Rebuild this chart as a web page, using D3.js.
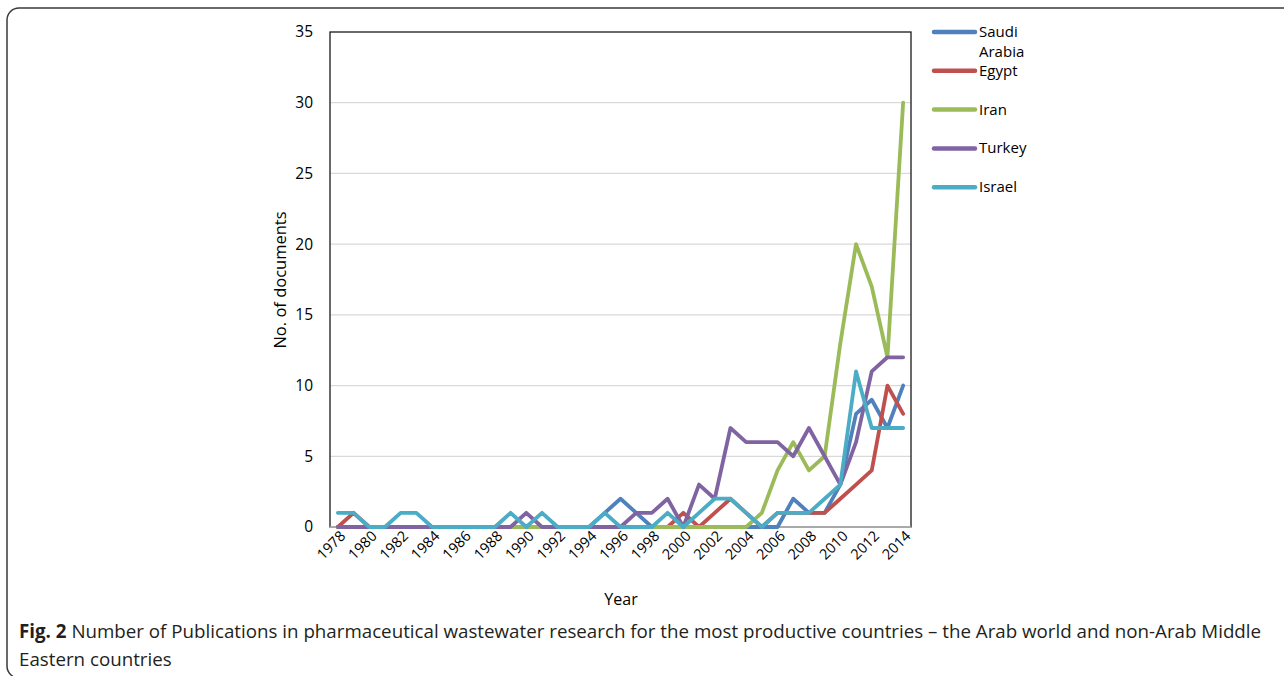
<!DOCTYPE html>
<html>
<head>
<meta charset="utf-8">
<script src="https://cdn.jsdelivr.net/npm/d3@7"></script>
<style>
  body { margin: 0; background: #fff; }
  text { font-family: "Open Sans", "Liberation Sans", sans-serif; }
</style>
</head>
<body>
<script>
// data
var years = d3.range(1978, 2015);
var yTicks = [0, 5, 10, 15, 20, 25, 30, 35];
var saudi  = [0,0,0,0,0,0,0,0,0,0,0,0,0,0,0,0,0,1,2,1,0,0,0,0,0,0,0,0,0,2,1,1,3,8,9,7,10];
var egypt  = [0,1,0,0,0,0,0,0,0,0,0,0,0,0,0,0,0,0,0,0,0,0,1,0,1,2,1,0,1,1,1,1,2,3,4,10,8];
var iran   = [0,0,0,0,0,0,0,0,0,0,0,0,0,0,0,0,0,0,0,0,0,0,0,0,0,0,0,1,4,6,4,5,13,20,17,12,30];
var turkey = [0,0,0,0,0,0,0,0,0,0,0,0,1,0,0,0,0,0,0,1,1,2,0,3,2,7,6,6,6,5,7,5,3,6,11,12,12];
var israel = [1,1,0,0,1,1,0,0,0,0,0,1,0,1,0,0,0,1,0,0,0,1,0,1,2,2,1,0,1,1,1,2,3,11,7,7,7];

var series = [
  { name: 'Saudi Arabia', values: saudi,  color: '#4F81BD' },
  { name: 'Egypt',        values: egypt,  color: '#C0504D' },
  { name: 'Iran',         values: iran,   color: '#9BBB59' },
  { name: 'Turkey',       values: turkey, color: '#8064A2' },
  { name: 'Israel',       values: israel, color: '#4BACC6' }
];

var W = 1284, H = 676;
var plot = { left: 330, right: 911, top: 32, bottom: 527 };

var svg = d3.select('body').append('svg')
    .attr('width', W)
    .attr('height', H);

// outer frame
svg.append('rect')
    .attr('x', 7).attr('y', 8)
    .attr('width', 1300).attr('height', 670)
    .attr('rx', 12)
    .attr('fill', 'none')
    .attr('stroke', '#3a3a3a')
    .attr('stroke-width', 1.5);

var x = d3.scalePoint()
    .domain(years)
    .range([plot.left, plot.right])
    .padding(0.5);

var y = d3.scaleLinear()
    .domain([0, 35])
    .range([plot.bottom, plot.top]);

// gridlines
svg.append('g')
  .selectAll('line')
  .data(yTicks.slice(1, -1))
  .join('line')
    .attr('x1', plot.left).attr('x2', plot.right)
    .attr('y1', function(d) { return y(d); })
    .attr('y2', function(d) { return y(d); })
    .attr('stroke', '#d9d9d9')
    .attr('stroke-width', 1.3);

// y axis labels
var yAxis = d3.axisLeft(y).tickValues(yTicks).tickSize(0).tickPadding(17);
svg.append('g')
    .attr('transform', 'translate(' + plot.left + ',0)')
    .call(yAxis)
    .call(function(g) {
      g.select('.domain').remove();
      g.selectAll('text')
        .attr('font-family', '"Open Sans", sans-serif')
        .attr('font-size', 15.5)
        .attr('fill', '#000');
    });

// x axis labels
var xAxis = d3.axisBottom(x)
    .tickValues(years.filter(function(d) { return d % 2 === 0; }))
    .tickSize(0);
svg.append('g')
    .attr('transform', 'translate(0,' + plot.bottom + ')')
    .call(xAxis)
    .call(function(g) {
      g.select('.domain').remove();
      g.selectAll('text')
        .attr('font-family', '"Open Sans", sans-serif')
        .attr('font-size', 14.5)
        .attr('fill', '#000')
        .attr('text-anchor', 'end')
        .attr('dy', null)
        .attr('y', 0)
        .attr('transform', 'translate(8,10) rotate(-45)');
    });

// plot frame
svg.append('rect')
    .attr('x', plot.left).attr('y', plot.top)
    .attr('width', plot.right - plot.left)
    .attr('height', plot.bottom - plot.top)
    .attr('fill', 'none')
    .attr('stroke', '#1a1a1a')
    .attr('stroke-width', 1.3);

// bottom axis line
svg.append('line')
    .attr('x1', plot.left).attr('x2', plot.right)
    .attr('y1', plot.bottom).attr('y2', plot.bottom)
    .attr('stroke', '#bfbfbf')
    .attr('stroke-width', 1.5);

// lines
var line = d3.line()
    .x(function(d, i) { return x(years[i]); })
    .y(function(d) { return y(d); });

svg.append('g')
  .selectAll('path')
  .data(series)
  .join('path')
    .attr('d', function(d) { return line(d.values); })
    .attr('fill', 'none')
    .attr('stroke', function(d) { return d.color; })
    .attr('stroke-width', 3.8)
    .attr('stroke-linejoin', 'round')
    .attr('stroke-linecap', 'round');

// axis titles
svg.append('text')
    .attr('transform', 'translate(286,280) rotate(-90)')
    .attr('text-anchor', 'middle')
    .attr('font-size', 16.5)
    .text('No. of documents');

svg.append('text')
    .attr('x', 621).attr('y', 605)
    .attr('text-anchor', 'middle')
    .attr('font-size', 16)
    .text('Year');

// legend
var legend = svg.append('g')
  .selectAll('g')
  .data(series)
  .join('g')
    .attr('transform', function(d, i) { return 'translate(934,' + (32 + i * 38.8) + ')'; });

legend.append('line')
    .attr('x1', 0).attr('x2', 41)
    .attr('stroke', function(d) { return d.color; })
    .attr('stroke-width', 4.5)
    .attr('stroke-linecap', 'round');

legend.append('text')
    .attr('x', 45)
    .attr('y', 5)
    .attr('font-size', 15)
    .each(function(d) {
      var parts = d.name.split(' ');
      var t = d3.select(this);
      parts.forEach(function(p, k) {
        t.append('tspan').attr('x', 45).attr('dy', k === 0 ? 0 : 20).text(p);
      });
    });

// caption
var cap = svg.append('text')
    .attr('x', 19).attr('y', 638)
    .attr('font-size', 17)
    .attr('fill', '#231f20');
cap.append('tspan').attr('font-weight', 'bold').text('Fig. 2');
cap.append('tspan').text(' Number of Publications in pharmaceutical wastewater research for the most productive countries \u2013 the Arab world and non-Arab Middle');

var cap2 = svg.append('text')
    .attr('x', 19).attr('y', 666)
    .attr('font-size', 17)
    .attr('fill', '#231f20')
    .text('Eastern countries');

// fit caption width to the reference line length
var target = 1262 - 19;
var len = cap.node().getComputedTextLength();
var fs = 17 * target / len;
cap.attr('font-size', fs);
cap2.attr('font-size', fs);
</script>
</body>
</html>
